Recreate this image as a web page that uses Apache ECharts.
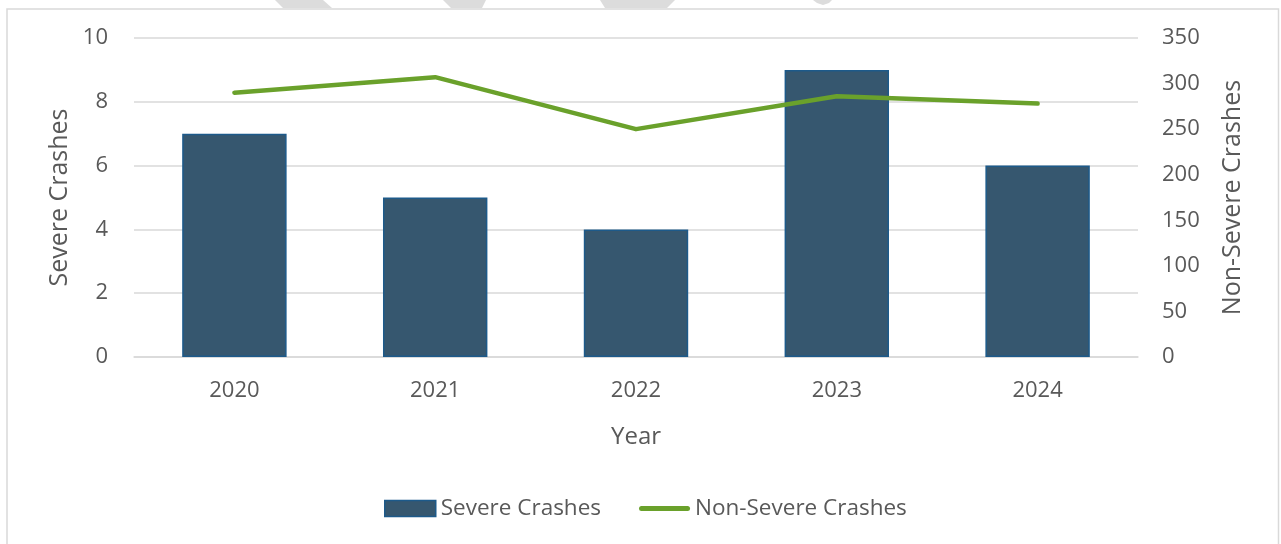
<!DOCTYPE html>
<html>
<head>
<meta charset="utf-8">
<script src="https://cdn.jsdelivr.net/npm/echarts@6/dist/echarts.min.js"></script>
<style>
  html, body { margin: 0; padding: 0; background: #ffffff; }
  #chart { width: 1281px; height: 544px; }
</style>
</head>
<body>
<div id="chart"></div>
<script>
// Crash counts by year
const years = ['2020', '2021', '2022', '2023', '2024'];
const severeCrashes = [7, 5, 4, 9, 6];
const nonSevereCrashes = [290, 307, 250, 286, 278];

const FONT = '"Open Sans", "Noto Sans", sans-serif';
const TEXT = '#595959';
const GRID = '#d9d9d9';
const BAR = '#36576f';
const BAR_EDGE = '#1d5a8a';
const LINE = '#6aa12b';

const chart = echarts.init(document.getElementById('chart'), null, { renderer: 'canvas' });

chart.setOption({
  backgroundColor: '#ffffff',
  animation: false,
  textStyle: { fontFamily: FONT },
  graphic: [
    // faint background mark pieces peeking above the frame
    { type: 'polygon', z: -10, shape: { points: [[275, 0], [323, 0], [332, 8], [283, 8]] }, style: { fill: '#dcdcdc' } },
    { type: 'polygon', z: -10, shape: { points: [[443, 0], [486, 0], [482, 8], [451, 8]] }, style: { fill: '#dcdcdc' } },
    { type: 'polygon', z: -10, shape: { points: [[600, 0], [675, 0], [667, 8], [605, 8]] }, style: { fill: '#dcdcdc' } },
    { type: 'polygon', z: -10, shape: { points: [[813, 0], [832, 0], [829, 3], [823, 5], [817, 3]] }, style: { fill: '#dcdcdc' } },
    // chart frame
    { type: 'rect', z: -5, shape: { x: 7, y: 9, width: 1271.5, height: 600 }, style: { fill: '#ffffff', stroke: GRID, lineWidth: 1.5 } }
  ],
  grid: { left: 134, right: 143, top: 38, bottom: 187, containLabel: false },
  legend: {
    top: 492,
    left: 379,
    itemWidth: 51,
    itemHeight: 16,
    itemGap: 38,
    textStyle: { color: TEXT, fontSize: 22.5, fontFamily: FONT },
    data: [
      { name: 'Severe Crashes', icon: 'rect', itemStyle: { color: BAR, borderColor: BAR_EDGE, borderWidth: 1.5 } },
      // thick rounded stroke for the line series
      { name: 'Non-Severe Crashes', icon: 'path://M2.5,0 L48.5,0 A2.5,2.5 0 0 1 48.5,5 L2.5,5 A2.5,2.5 0 0 1 2.5,0 Z', itemStyle: { color: LINE } }
    ]
  },
  xAxis: {
    type: 'category',
    data: years,
    name: 'Year',
    nameLocation: 'middle',
    nameGap: 68,
    nameTextStyle: { color: TEXT, fontSize: 24, fontFamily: FONT },
    axisLine: { show: true, lineStyle: { color: GRID, width: 1.5 } },
    axisTick: { show: false },
    axisLabel: { color: TEXT, fontSize: 22, margin: 23, fontFamily: FONT }
  },
  yAxis: [
    {
      type: 'value',
      min: 0, max: 10, interval: 2,
      name: 'Severe Crashes',
      nameLocation: 'middle',
      nameGap: 59,
      nameTextStyle: { color: TEXT, fontSize: 25, fontFamily: FONT },
      axisLine: { show: false },
      axisTick: { show: false },
      axisLabel: { color: TEXT, fontSize: 22, margin: 26, fontFamily: FONT },
      splitLine: { lineStyle: { color: GRID, width: 1.5 } }
    },
    {
      type: 'value',
      min: 0, max: 350, interval: 50,
      name: 'Non-Severe Crashes',
      nameLocation: 'middle',
      nameGap: 82,
      nameRotate: 90,
      nameTextStyle: { color: TEXT, fontSize: 25, fontFamily: FONT },
      axisLine: { show: false },
      axisTick: { show: false },
      axisLabel: { color: TEXT, fontSize: 22, margin: 24, fontFamily: FONT },
      splitLine: { show: false }
    }
  ],
  series: [
    {
      name: 'Severe Crashes',
      type: 'bar',
      yAxisIndex: 0,
      data: severeCrashes,
      barWidth: '52%',
      itemStyle: { color: BAR, borderColor: BAR_EDGE, borderWidth: 1.5 }
    },
    {
      name: 'Non-Severe Crashes',
      type: 'line',
      yAxisIndex: 1,
      data: nonSevereCrashes,
      showSymbol: false,
      symbol: 'none',
      lineStyle: { color: LINE, width: 4.5, cap: 'round', join: 'round' },
      itemStyle: { color: LINE }
    }
  ]
});
</script>
</body>
</html>
